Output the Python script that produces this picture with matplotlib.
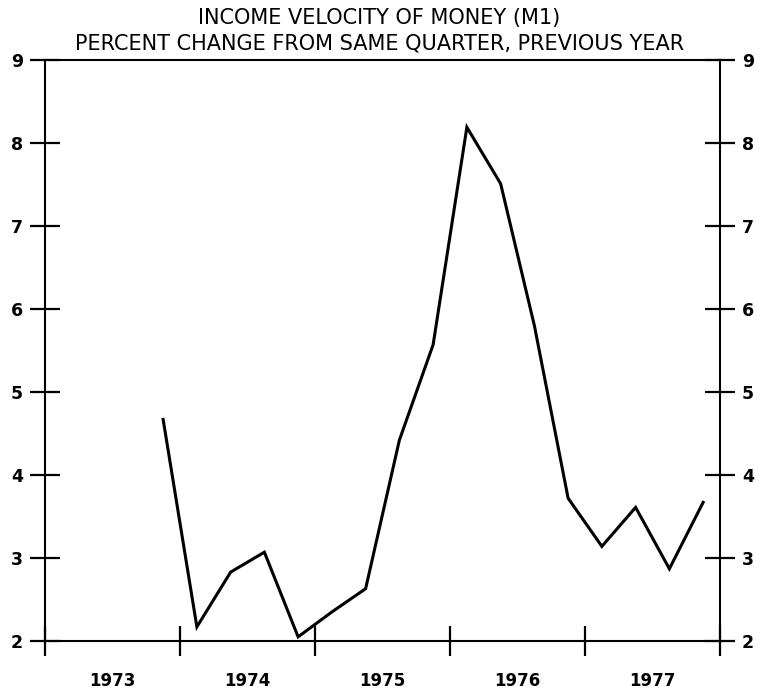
import numpy as np
import matplotlib.pyplot as plt

# 数据: 季度 (年份 + 季度序号), 收入货币流通速度同比变化 (%)
years = [1973, 1974, 1974, 1974, 1974, 1975, 1975, 1975, 1975,
         1976, 1976, 1976, 1976, 1977, 1977, 1977, 1977]
quarters = [4, 1, 2, 3, 4, 1, 2, 3, 4, 1, 2, 3, 4, 1, 2, 3, 4]
velocity_pct = [4.67, 2.17, 2.83, 3.07, 2.05, 2.35, 2.63, 4.42, 5.57,
                8.19, 7.51, 5.80, 3.72, 3.14, 3.61, 2.87, 3.67]

year_ticks = [1973, 1974, 1975, 1976, 1977, 1978]
year_labels = ['1973', '1974', '1975', '1976', '1977']
y_ticks = [2, 3, 4, 5, 6, 7, 8, 9]

plt.rcParams['font.family'] = ['DejaVu Sans']

x = np.array(years) + (np.array(quarters) - 0.5) / 4.0

fig = plt.figure(figsize=(7.59, 6.90), dpi=100)
ax = fig.add_axes([45 / 759, 1 - 641 / 690, (720 - 45) / 759, (641 - 60) / 690])

ax.plot(x, velocity_pct, color='black', linewidth=2.2, solid_joinstyle='miter')

ax.set_xlim(1973, 1978)
ax.set_ylim(2, 9)

# 年份刻度在年份边界, 标签在年中
ax.set_xticks(year_ticks)
ax.set_xticklabels([])
ax.set_xticks([y + 0.5 for y in year_ticks[:-1]], minor=True)
ax.set_xticklabels(year_labels, minor=True, fontsize=12, fontweight='bold')
ax.tick_params(axis='x', which='major', direction='inout', length=21.6, width=1.6)
ax.tick_params(axis='x', which='minor', length=0, pad=22)

ax.set_yticks(y_ticks)
ax.set_yticklabels([str(v) for v in y_ticks], fontsize=12.5, fontweight='bold')
ax.tick_params(axis='y', which='major', direction='inout', length=21.6, width=1.6,
               left=True, right=True, labelleft=True, labelright=True, pad=5)

for spine in ax.spines.values():
    spine.set_linewidth(1.5)
    spine.set_color('black')

fig.text(0.5, 1 - 18 / 690, 'INCOME VELOCITY OF MONEY (M1)', ha='center', va='center',
         fontsize=15)
fig.text(0.5, 1 - 44 / 690, 'PERCENT CHANGE FROM SAME QUARTER, PREVIOUS YEAR',
         ha='center', va='center', fontsize=15)

plt.savefig('out.png', dpi=100)
